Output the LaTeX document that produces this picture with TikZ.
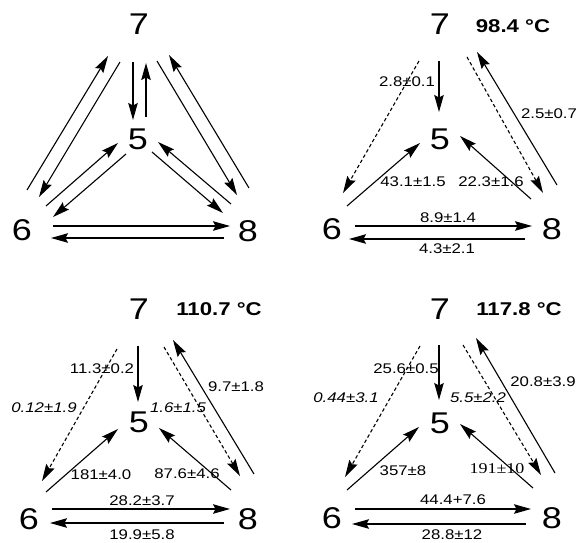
\documentclass[tikz,border=0pt]{standalone}
\usepackage{fontspec}
\setmainfont{Liberation Sans}[FakeStretch=1.2]
\newfontfamily\serifnum{Liberation Serif}[FakeStretch=1.2]
\usetikzlibrary{arrows.meta}
\begin{document}
\begin{tikzpicture}[x=1pt,y=-1pt,
  big/.style={inner sep=0pt,font=\fontsize{30}{30}\selectfont},
  temp/.style={inner sep=0pt,font=\fontsize{18.5}{18.5}\selectfont\bfseries},
  lab/.style={inner sep=0pt,font=\fontsize{14}{14}\selectfont},
  ilab/.style={inner sep=0pt,font=\fontsize{14}{14}\selectfont\itshape},
  arr/.style={line width=1.1pt,-{Stealth[length=17pt,width=9.5pt,inset=2.5pt]}},
  darr/.style={arr,dash pattern=on 3.5pt off 2.5pt}]
\useasboundingbox (0,0) rectangle (579,542);
% ---------------- panel 1
\node[big] (a7) at (139,24) {7};
\node[big] (a5) at (138,139) {5};
\node[big] (a6) at (22,230) {6};
\node[big] (a8) at (248,231) {8};
\draw[arr] ([shift={(-6,38)}]a7.center) -- ([shift={(-5,-19)}]a5.center);
\draw[arr] ([shift={(8,-22)}]a5.center) -- ([shift={(7,39)}]a7.center);
\draw[arr] ([shift={(5,-40)}]a6.center) -- ([shift={(-31,32)}]a7.center);
\draw[arr] ([shift={(-19,38)}]a7.center) -- ([shift={(17,-33)}]a6.center);
\draw[arr] ([shift={(24,-24)}]a6.center) -- ([shift={(-20,4)}]a5.center);
\draw[arr] ([shift={(-12,15)}]a5.center) -- ([shift={(31,-13)}]a6.center);
\draw[arr] ([shift={(18,37)}]a7.center) -- ([shift={(-11,-36)}]a8.center);
\draw[arr] ([shift={(1,-43)}]a8.center) -- ([shift={(30,31)}]a7.center);
\draw[arr] ([shift={(14,13)}]a5.center) -- ([shift={(-25,-18)}]a8.center);
\draw[arr] ([shift={(-17,-27)}]a8.center) -- ([shift={(20,3)}]a5.center);
\draw[arr] ([shift={(31,-4)}]a6.center) -- ([shift={(-18,-5)}]a8.center);
\draw[arr] ([shift={(-24,7)}]a8.center) -- ([shift={(29,8)}]a6.center);
% ---------------- panel 2
\node[big] (b7) at (440,24) {7};
\node[big] (b5) at (440,139) {5};
\node[big] (b6) at (332,229) {6};
\node[big] (b8) at (552,229) {8};
\node[temp] (bt) at (513,26) {98.4 °C};
\draw[arr] ([shift={(-1,37)}]b7.center) -- ([shift={(-1,-27)}]b5.center);
\draw[darr] ([shift={(-21,37)}]b7.center) -- ([shift={(11,-36)}]b6.center);
\draw[arr] ([shift={(15,-23)}]b6.center) -- ([shift={(-20,4)}]b5.center);
\draw[arr] ([shift={(-21,-30)}]b8.center) -- ([shift={(20,-3)}]b5.center);
\draw[darr] ([shift={(27,33)}]b7.center) -- ([shift={(-9,-36)}]b8.center);
\draw[arr] ([shift={(5,-44)}]b8.center) -- ([shift={(37,28)}]b7.center);
\draw[arr] ([shift={(23,-3)}]b6.center) -- ([shift={(-20,-3)}]b8.center);
\draw[arr] ([shift={(-27,10)}]b8.center) -- ([shift={(17,10)}]b6.center);
\node[lab] (bl1) at (407,82) {2.8±0.1};
\node[lab] (bl2) at (549,114) {2.5±0.7};
\node[lab] (bl3) at (413,182) {43.1±1.5};
\node[lab] (bl4) at (491,182) {22.3±1.6};
\node[lab] (bl5) at (448,218) {8.9±1.4};
\node[lab] (bl6) at (447,249) {4.3±2.1};
% ---------------- panel 3
\node[big] (c7) at (139,309) {7};
\node[big] (c5) at (139,422) {5};
\node[big] (c6) at (29,519) {6};
\node[big] (c8) at (248,519) {8};
\node[temp] (ct) at (219,309) {110.7 °C};
\draw[arr] ([shift={(-1,37)}]c7.center) -- ([shift={(-1,-20)}]c5.center);
\draw[darr] ([shift={(-22,40)}]c7.center) -- ([shift={(13,-38)}]c6.center);
\draw[arr] ([shift={(17,-27)}]c6.center) -- ([shift={(-21,7)}]c5.center);
\draw[arr] ([shift={(-17,-29)}]c8.center) -- ([shift={(20,6)}]c5.center);
\draw[darr] ([shift={(25,38)}]c7.center) -- ([shift={(-8,-43)}]c8.center);
\draw[arr] ([shift={(6,-45)}]c8.center) -- ([shift={(34,31)}]c7.center);
\draw[arr] ([shift={(23,-10)}]c6.center) -- ([shift={(-18,-10)}]c8.center);
\draw[arr] ([shift={(-24,4)}]c8.center) -- ([shift={(21,4)}]c6.center);
\node[lab] (cl1) at (102,369) {11.3±0.2};
\node[ilab] (cl2) at (44,408) {0.12±1.9};
\node[ilab] (cl3) at (178,408) {1.6±1.5};
\node[lab] (cl4) at (236,387) {9.7±1.8};
\node[lab] (cl5) at (101,475) {181±4.0};
\node[lab] (cl6) at (187,474) {87.6±4.6};
\node[lab] (cl7) at (142,501) {28.2±3.7};
\node[lab] (cl8) at (142,535) {19.9±5.8};
% ---------------- panel 4
\node[big] (d7) at (440,309) {7};
\node[big] (d5) at (440,423) {5};
\node[big] (d6) at (332,518) {6};
\node[big] (d8) at (552,518) {8};
\node[temp] (dt) at (519,309) {117.8 °C};
\draw[arr] ([shift={(-1,36)}]d7.center) -- ([shift={(-1,-23)}]d5.center);
\draw[darr] ([shift={(-20,37)}]d7.center) -- ([shift={(13,-41)}]d6.center);
\draw[arr] ([shift={(15,-28)}]d6.center) -- ([shift={(-21,4)}]d5.center);
\draw[arr] ([shift={(-19,-30)}]d8.center) -- ([shift={(20,1)}]d5.center);
\draw[darr] ([shift={(23,36)}]d7.center) -- ([shift={(-11,-43)}]d8.center);
\draw[arr] ([shift={(3,-45)}]d8.center) -- ([shift={(36,29)}]d7.center);
\draw[arr] ([shift={(23,-9)}]d6.center) -- ([shift={(-21,-9)}]d8.center);
\draw[arr] ([shift={(-26,6)}]d8.center) -- ([shift={(20,6)}]d6.center);
\node[lab] (dl1) at (406,369) {25.6±0.5};
\node[ilab] (dl2) at (346,398) {0.44±3.1};
\node[ilab] (dl3) at (478,398) {5.5±2.2};
\node[lab] (dl4) at (543,382) {20.8±3.9};
\node[lab] (dl5) at (403,471) {357±8};
\node[inner sep=0pt,font=\fontsize{15}{15}\selectfont\serifnum] (dl6) at (497,469) {191±10};
\node[lab] (dl7) at (453,500) {44.4+7.6};
\node[lab] (dl8) at (452,535) {28.8±12};
\end{tikzpicture}
\end{document}
